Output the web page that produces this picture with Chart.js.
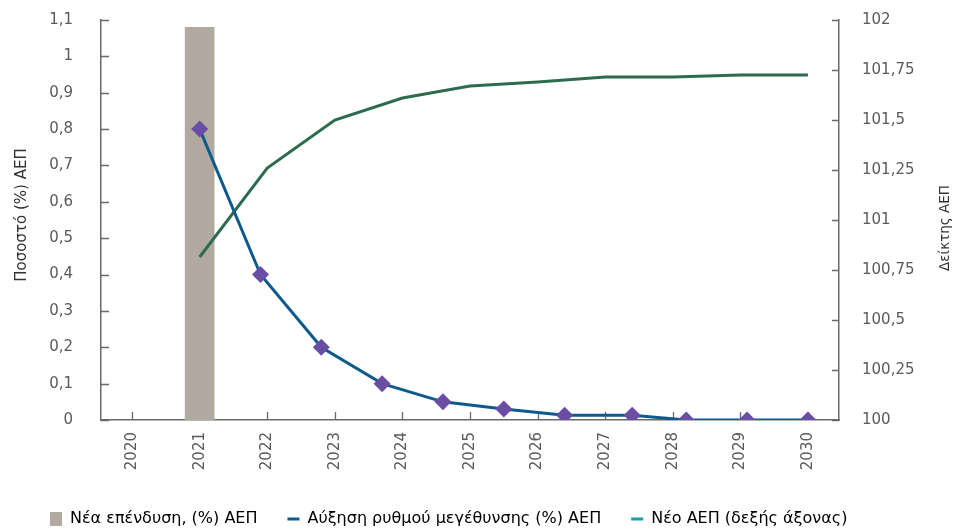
<!DOCTYPE html>
<html lang="el">
<head>
<meta charset="utf-8">
<title>Νέα επένδυση και ΑΕΠ</title>
<script src="https://cdn.jsdelivr.net/npm/chart.js@4/dist/chart.umd.min.js"></script>
<style>
  html, body { margin: 0; padding: 0; background: #ffffff; }
  #wrap { width: 953px; height: 531px; }
</style>
</head>
<body>
<div id="wrap"><canvas id="chart" width="953" height="531"></canvas></div>
<script>
// Years on the horizontal axis
const years = [2020, 2021, 2022, 2023, 2024, 2025, 2026, 2027, 2028, 2029, 2030];

// New investment, % of GDP (bar)
const investYears = [2021];
const investValues = [1.08];

// Growth-rate increase, % of GDP (left axis)
const growthYears = [2021, 2021.9, 2022.8, 2023.7, 2024.6, 2025.5, 2026.4, 2027.4, 2028.2, 2029.1, 2030];
const growthValues = [0.8, 0.4, 0.2, 0.1, 0.05, 0.03, 0.013, 0.013, 0, 0, 0];

// New GDP index (right axis)
const gdpYears = [2021, 2022, 2023, 2024, 2025, 2026, 2027, 2028, 2029, 2030];
const gdpValues = [100.815, 101.26, 101.5, 101.61, 101.67, 101.69, 101.715, 101.715, 101.725, 101.725];

// Axis tick values
const leftTicks = [0, 0.1, 0.2, 0.3, 0.4, 0.5, 0.6, 0.7, 0.8, 0.9, 1, 1.1];
const rightTicks = [100, 100.25, 100.5, 100.75, 101, 101.25, 101.5, 101.75, 102];

const labels = {
  invest: 'Νέα επένδυση, (%) ΑΕΠ',
  growth: 'Αύξηση ρυθμού μεγέθυνσης (%) ΑΕΠ',
  gdp: 'Νέο ΑΕΠ (δεξής άξονας)',
  left: 'Ποσοστό (%) ΑΕΠ',
  right: 'Δείκτης ΑΕΠ'
};

const colors = {
  bar: '#b2aaa0',
  blue: '#0e5a8c',
  marker: '#6a4ea4',
  green: '#2d6b4f',
  legendTeal: '#13a4ab',
  axis: '#6a6a6a',
  tickText: '#5a5a5a',
  title: '#333333'
};

const FONT = '"DejaVu Sans", "Open Sans", sans-serif';
const comma = v => String(v).replace('.', ',');

// Inward tick marks and the two vertical axis titles
const axisDecor = {
  id: 'axisDecor',
  beforeDatasetsDraw(chart) {
    const { ctx, chartArea: a, scales } = chart;
    ctx.save();
    ctx.strokeStyle = colors.axis;
    ctx.lineWidth = 1.3;
    ctx.beginPath();
    scales.y.ticks.forEach((t, i) => {
      const y = Math.round(scales.y.getPixelForTick(i)) + 0.5;
      ctx.moveTo(a.left, y); ctx.lineTo(a.left + 8, y);
    });
    scales.y1.ticks.forEach((t, i) => {
      const y = Math.round(scales.y1.getPixelForTick(i)) + 0.5;
      ctx.moveTo(a.right - 7, y); ctx.lineTo(a.right, y);
    });
    scales.x.ticks.forEach((t, i) => {
      const x = Math.round(scales.x.getPixelForTick(i)) + 0.5;
      ctx.moveTo(x, a.bottom - 8); ctx.lineTo(x, a.bottom);
    });
    ctx.stroke();
    ctx.restore();
  },
  afterDraw(chart) {
    const { ctx, chartArea: a } = chart;
    const midY = (a.top + a.bottom) / 2;
    ctx.save();
    ctx.fillStyle = colors.title;
    ctx.textAlign = 'center';
    ctx.textBaseline = 'middle';
    [[a.left - 79, midY - 5, 15, labels.left], [a.right + 106, midY + 8, 13.5, labels.right]].forEach(([x, y, size, txt]) => {
      ctx.save();
      ctx.font = size + 'px ' + FONT;
      ctx.translate(x, y);
      ctx.rotate(-Math.PI / 2);
      ctx.fillText(txt, 0, 0);
      ctx.restore();
    });
    ctx.restore();
  }
};

new Chart(document.getElementById('chart'), {
  type: 'bar',
  data: {
    datasets: [
      {
        type: 'bar',
        label: labels.invest,
        data: investYears.map((x, i) => ({ x, y: investValues[i] })),
        backgroundColor: colors.bar,
        barThickness: 29,
        grouped: false,
        xAxisID: 'x',
        yAxisID: 'y',
        order: 2
      },
      {
        type: 'line',
        label: labels.growth,
        data: growthYears.map((x, i) => ({ x, y: growthValues[i] })),
        borderColor: colors.blue,
        borderWidth: 3,
        pointStyle: 'rectRot',
        pointRadius: 8.5,
        pointBackgroundColor: colors.marker,
        pointBorderColor: colors.marker,
        pointBorderWidth: 0,
        tension: 0,
        fill: false,
        xAxisID: 'x',
        yAxisID: 'y',
        order: 0
      },
      {
        type: 'line',
        label: labels.gdp,
        data: gdpYears.map((x, i) => ({ x, y: gdpValues[i] })),
        borderColor: colors.green,
        borderWidth: 3,
        pointRadius: 0,
        tension: 0,
        fill: false,
        xAxisID: 'x',
        yAxisID: 'y1',
        order: 1
      }
    ]
  },
  options: {
    responsive: false,
    animation: false,
    devicePixelRatio: 1,
    layout: { padding: { top: 20, left: 20, right: 0, bottom: 0 } },
    plugins: {
      tooltip: { enabled: false },
      legend: {
        position: 'bottom',
        align: 'start',
        maxHeight: 50,
        labels: {
          usePointStyle: true,
          boxHeight: 14,
          pointStyleWidth: 12,
          padding: 30,
          color: colors.tickText,
          font: { family: FONT, size: 16 },
          generateLabels: () => [
            { text: labels.invest, fillStyle: colors.bar, strokeStyle: colors.bar, lineWidth: 0, pointStyle: 'rect', datasetIndex: 0 },
            { text: labels.growth, fillStyle: colors.blue, strokeStyle: colors.blue, lineWidth: 3, pointStyle: 'line', datasetIndex: 1 },
            { text: labels.gdp, fillStyle: colors.legendTeal, strokeStyle: colors.legendTeal, lineWidth: 3, pointStyle: 'line', datasetIndex: 2 }
          ]
        }
      }
    },
    scales: {
      x: {
        type: 'linear',
        position: 'bottom',
        min: 2019.54,
        max: 2030.46,
        offset: false,
        afterBuildTicks: s => { s.ticks = years.map(v => ({ value: v })); },
        afterFit: s => { s.height = 61; },
        grid: { display: false, drawTicks: false },
        border: { display: true, color: colors.axis, width: 1.5 },
        ticks: {
          minRotation: 90,
          maxRotation: 90,
          padding: 12,
          autoSkip: false,
          color: colors.tickText,
          font: { family: FONT, size: 15 },
          callback: v => String(v)
        }
      },
      y: {
        type: 'linear',
        position: 'left',
        min: 0,
        max: 1.1,
        afterBuildTicks: s => { s.ticks = leftTicks.map(v => ({ value: v })); },
        afterFit: s => { s.width = 81; },
        // tick marks are drawn inward by axisDecor; the hidden tick length only sets the label gap
        grid: { display: false, drawTicks: true, tickLength: 28 },
        border: { display: true, color: colors.axis, width: 1.5 },
        ticks: {
          padding: 0,
          color: colors.tickText,
          font: { family: FONT, size: 15 },
          callback: v => comma(v)
        }
      },
      y1: {
        type: 'linear',
        position: 'right',
        min: 100,
        max: 102,
        afterBuildTicks: s => { s.ticks = rightTicks.map(v => ({ value: v })); },
        afterFit: s => { s.width = 114; },
        grid: { display: false, drawTicks: true, tickLength: 23 },
        border: { display: true, color: colors.axis, width: 1.5 },
        ticks: {
          padding: 0,
          color: colors.tickText,
          font: { family: FONT, size: 15 },
          callback: v => comma(v)
        }
      }
    }
  },
  plugins: [axisDecor]
});
</script>
</body>
</html>
